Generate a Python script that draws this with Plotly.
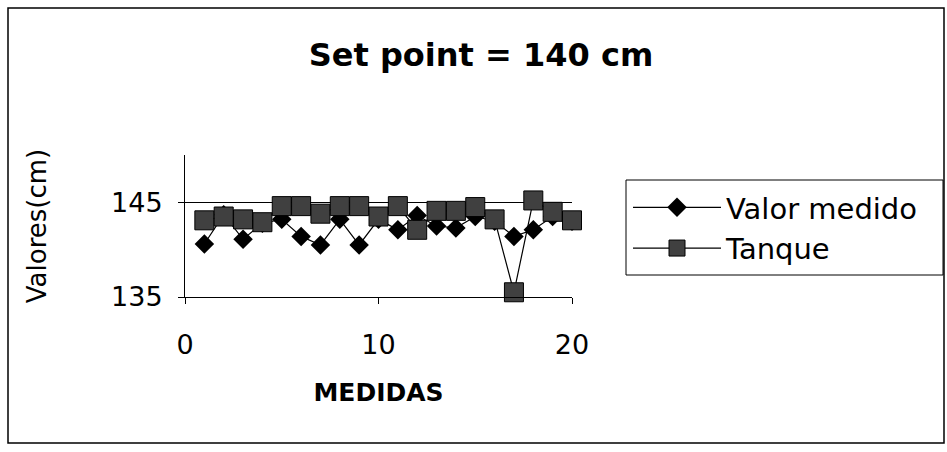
import plotly.graph_objects as go

# Measurement index and the two recorded series (cm)
medidas = list(range(1, 21))
valor_medido = [140.6, 143.7, 141.1, 142.8, 143.2, 141.4, 140.5, 143.2, 140.5, 143.2,
                142.1, 143.6, 142.5, 142.3, 143.5, 143.0, 141.4, 142.1, 143.5, 143.0]
tanque = [143.1, 143.5, 143.2, 142.9, 144.6, 144.6, 143.8, 144.6, 144.6, 143.5,
          144.6, 142.1, 144.1, 144.1, 144.5, 143.2, 135.5, 145.2, 144.0, 143.1]

x_ticks = [0, 10, 20]
y_ticks = [135, 145]

FONT = "DejaVu Sans"
W, H = 947, 452
# plot area in pixels
L, R, T, B = 185, 572, 155, 297

def px_to_paper_x(px):
    return (px - L) / (R - L)

def px_to_paper_y(py):
    return (B - py) / (B - T)

def paper_rect(x0, y0, x1, y1, width):
    return dict(type="rect", xref="paper", yref="paper",
                x0=px_to_paper_x(x0), x1=px_to_paper_x(x1),
                y0=px_to_paper_y(y1), y1=px_to_paper_y(y0),
                line=dict(color="black", width=width),
                fillcolor="rgba(0,0,0,0)", layer="below")

fig = go.Figure()
fig.add_trace(go.Scatter(
    x=medidas, y=valor_medido, name="Valor medido", mode="lines+markers",
    line=dict(color="black", width=1.2), cliponaxis=False,
    marker=dict(symbol="diamond", size=15, color="black"),
))
fig.add_trace(go.Scatter(
    x=medidas, y=tanque, name="Tanque", mode="lines+markers",
    line=dict(color="black", width=1.2), cliponaxis=False,
    marker=dict(symbol="square", size=19, color="#404040",
                line=dict(color="black", width=1)),
))

fig.update_layout(
    width=W, height=H,
    margin=dict(l=L, r=W - R, t=T, b=H - B, autoexpand=False),
    paper_bgcolor="white", plot_bgcolor="white",
    font=dict(family=FONT, color="black"),
    title=dict(text="<b>Set point = 140 cm</b>", font=dict(size=32, family=FONT),
               x=(302 + 660) / 2 / W, xanchor="center",
               y=1 - 55 / H, yanchor="middle"),
    xaxis=dict(
        range=[0, 20], tickvals=x_ticks, ticks="outside", ticklen=6,
        tickcolor="black", showline=True, linecolor="black", linewidth=1,
        showgrid=False, zeroline=False, tickfont=dict(size=27),
        ticklabelstandoff=18,
        title=dict(text="<b>MEDIDAS</b>", font=dict(size=25), standoff=24),
    ),
    yaxis=dict(
        range=[135, 150], tickvals=y_ticks, ticks="outside", ticklen=6,
        tickcolor="black", showline=True, linecolor="black", linewidth=1,
        showgrid=True, gridcolor="black", gridwidth=1, zeroline=False,
        tickfont=dict(size=27), ticklabelstandoff=10,
        title=dict(text="Valores(cm)", font=dict(size=26), standoff=56),
    ),
    legend=dict(
        x=px_to_paper_x(628), y=px_to_paper_y(182), xanchor="left", yanchor="top",
        borderwidth=0, bgcolor="rgba(0,0,0,0)",
        font=dict(size=29, family=FONT), itemwidth=88, tracegroupgap=0,
    ),
    showlegend=True,
    shapes=[
        # chart frame
        paper_rect(8, 8, 944, 443, 1.5),
        # legend box
        paper_rect(626, 180, 943, 275, 1),
    ],
)

fig.write_html("out.html")
